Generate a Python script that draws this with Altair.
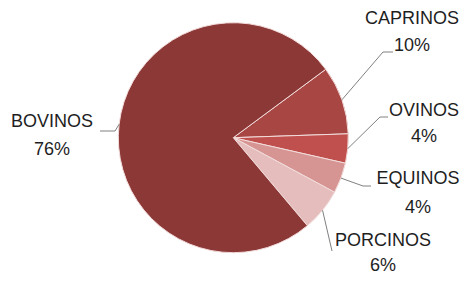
import math
import altair as alt
import pandas as pd

# ---- data ----
categories = ["CAPRINOS", "OVINOS", "EQUINOS", "PORCINOS", "BOVINOS"]
values = [9.6, 4.1, 4.3, 6.0, 76.0]
pct_labels = ["10%", "4%", "4%", "6%", "76%"]

# ---- style / layout ----
colors = ["#A84644", "#C0504D", "#D69593", "#E5BDBD", "#8C3836"]
start_deg = 53.5
cx, cy, R = 225.3, 129.7, 115
# label centre positions (name line, percent line) and leader elbow / end points (view pixels)
label_x = [404, 416, 410, 375, 44]
name_y = [11, 103, 171, 233, 114]
pct_y = [38, 129, 200, 258, 142]
elbow_x = [375, 372, 355, 324, 107]
elbow_y = [44, 109, 178, 243, 123]
end_x = [385, 380, 363, 324, 92]
end_y = [44, 109, 178, 243, 123]

total = sum(values)
rows, lrows, trows = [], [], []
acc = 0.0
for i, (c, v) in enumerate(zip(categories, values)):
    rows.append({"cat": c, "value": v, "ord": i})
    mid = math.radians(start_deg) + 2 * math.pi * (acc + v / 2) / total
    acc += v
    sx = cx + R * math.sin(mid)
    sy = cy - R * math.cos(mid)
    for k, (px, py) in enumerate([(sx, sy), (elbow_x[i], elbow_y[i]), (end_x[i], end_y[i])]):
        lrows.append({"cat": c, "k": k, "px": px, "py": py})
    trows.append({"cat": c, "txt": c, "tx": label_x[i], "ty": name_y[i]})
    trows.append({"cat": c, "txt": pct_labels[i], "tx": label_x[i], "ty": pct_y[i]})

df = pd.DataFrame(rows)
ldf = pd.DataFrame(lrows)
tdf = pd.DataFrame(trows)

s = math.radians(start_deg)
pie = alt.Chart(df).mark_arc(radius=R, stroke="#F2DCDB", strokeWidth=1).encode(
    theta=alt.Theta("value:Q", stack=True, scale=alt.Scale(range=[s, s + 2 * math.pi])),
    order=alt.Order("ord:Q"),
    color=alt.Color("cat:N", scale=alt.Scale(domain=categories, range=colors), legend=None),
    x=alt.value(cx),
    y=alt.value(cy),
)

leaders = alt.Chart(ldf).mark_line(color="#808080", strokeWidth=1).encode(
    x=alt.X("px:Q", scale=None),
    y=alt.Y("py:Q", scale=None),
    detail="cat:N",
    order="k:Q",
)

labels = alt.Chart(tdf).mark_text(
    font="Liberation Sans", fontSize=18, color="#1E1E1E", align="center", baseline="middle"
).encode(
    x=alt.X("tx:Q", scale=None),
    y=alt.Y("ty:Q", scale=None),
    text="txt:N",
)

chart = alt.layer(pie, leaders, labels).properties(
    width=453, height=269, padding=0,
    autosize=alt.AutoSizeParams(type="fit", contains="padding"),
).configure_view(stroke=None)

chart.save("out.html", embed_options={"renderer": "svg", "actions": False})
